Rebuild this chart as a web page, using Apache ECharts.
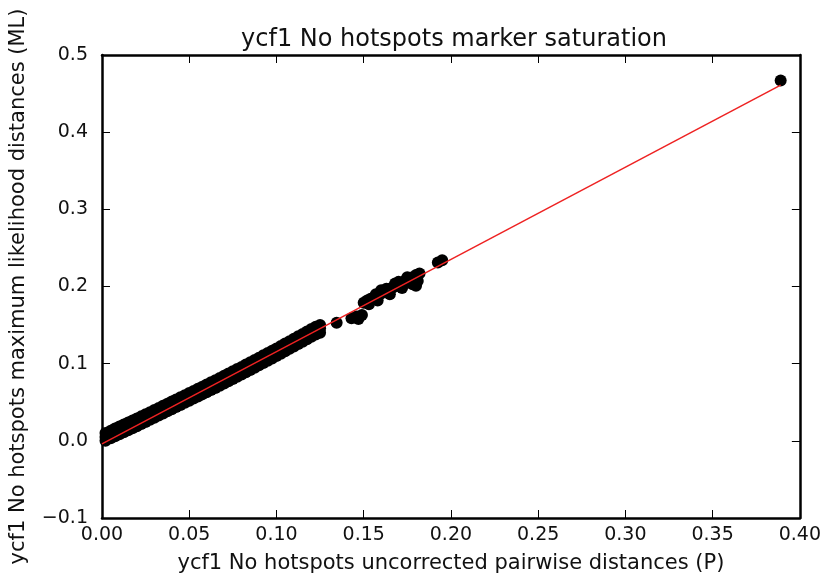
<!DOCTYPE html>
<html>
<head>
<meta charset="utf-8">
<script src="https://cdn.jsdelivr.net/npm/echarts@6/dist/echarts.min.js"></script>
<style>
  html, body { margin: 0; padding: 0; background: #fff; }
  #chart { width: 824px; height: 579px; }
</style>
</head>
<body>
<div id="chart"></div>
<script>
// 数据：P距离(x) 与 ML距离(y)，读自原图
// 密集带：中心、上沿、下沿
const bandX = [0.002, 0.005, 0.0075, 0.010, 0.0125, 0.015, 0.0175, 0.020, 0.0225, 0.025, 0.0275, 0.030, 0.0325,
  0.035, 0.0375, 0.040, 0.0425, 0.045, 0.0475, 0.050, 0.0525, 0.055, 0.0575, 0.060, 0.0625, 0.065, 0.0675, 0.070,
  0.0725, 0.075, 0.0775, 0.080, 0.0825, 0.085, 0.0875, 0.090, 0.0925, 0.095, 0.0975, 0.100, 0.1025, 0.105, 0.1075,
  0.110, 0.1125, 0.115, 0.1175, 0.120, 0.1225, 0.125];
const bandMidY = [0.0050, 0.0082, 0.0109, 0.0135, 0.0162, 0.0188, 0.0214, 0.0240, 0.0267, 0.0294, 0.0322, 0.0349, 0.0377,
  0.0404, 0.0432, 0.0459, 0.0487, 0.0514, 0.0542, 0.0569, 0.0597, 0.0624, 0.0652, 0.0679, 0.0708, 0.0736, 0.0765, 0.0794,
  0.0823, 0.0851, 0.0880, 0.0908, 0.0938, 0.0968, 0.0998, 0.1028, 0.1058, 0.1088, 0.1118, 0.1148, 0.1179, 0.1210, 0.1242,
  0.1273, 0.1304, 0.1335, 0.1367, 0.1398, 0.1428, 0.1458];
const bandUpY = [0.0100, 0.0132, 0.0159, 0.0185, 0.0212, 0.0238, 0.0264, 0.0290, 0.0317, 0.0344, 0.0372, 0.0399, 0.0427,
  0.0454, 0.0482, 0.0509, 0.0537, 0.0564, 0.0592, 0.0619, 0.0647, 0.0674, 0.0702, 0.0729, 0.0758, 0.0786, 0.0815, 0.0844,
  0.0873, 0.0901, 0.0930, 0.0958, 0.0988, 0.1018, 0.1048, 0.1078, 0.1108, 0.1138, 0.1168, 0.1198, 0.1229, 0.1260, 0.1292,
  0.1323, 0.1354, 0.1385, 0.1417, 0.1448, 0.1478, 0.1500];
const bandLowY = [0.0000, 0.0032, 0.0059, 0.0085, 0.0112, 0.0138, 0.0164, 0.0190, 0.0217, 0.0244, 0.0272, 0.0299, 0.0327,
  0.0354, 0.0382, 0.0409, 0.0437, 0.0464, 0.0492, 0.0519, 0.0547, 0.0574, 0.0602, 0.0629, 0.0658, 0.0686, 0.0715, 0.0744,
  0.0773, 0.0801, 0.0830, 0.0858, 0.0888, 0.0918, 0.0948, 0.0978, 0.1008, 0.1038, 0.1068, 0.1098, 0.1129, 0.1160, 0.1192,
  0.1223, 0.1254, 0.1285, 0.1317, 0.1348, 0.1378, 0.1400];

// 稀疏点与离群点
const sparseX = [0.1345, 0.143, 0.146, 0.149, 0.147, 0.150, 0.152, 0.154, 0.156, 0.158, 0.160, 0.162, 0.164, 0.166,
  0.168, 0.170, 0.172, 0.174, 0.176, 0.178, 0.180, 0.182, 0.153, 0.158, 0.165, 0.172, 0.178, 0.181, 0.180, 0.160,
  0.168, 0.175, 0.157, 0.163, 0.170, 0.1925, 0.195, 0.389];
const sparseY = [0.153, 0.159, 0.161, 0.163, 0.158, 0.179, 0.182, 0.184, 0.186, 0.188, 0.191, 0.193, 0.196, 0.198,
  0.200, 0.203, 0.205, 0.208, 0.210, 0.212, 0.215, 0.217, 0.177, 0.182, 0.190, 0.198, 0.203, 0.207, 0.201, 0.195,
  0.204, 0.212, 0.190, 0.197, 0.206, 0.231, 0.234, 0.467];

// 拟合直线
const fitX = [0, 0.389];
const fitY = [-0.004, 0.461];

const FONT = 'DejaVu Sans';

function pairs(xs, ys) {
  return xs.map((x, i) => [x, ys[i]]);
}

const points = [].concat(pairs(bandX, bandMidY), pairs(bandX, bandUpY), pairs(bandX, bandLowY), pairs(sparseX, sparseY));

const chart = echarts.init(document.getElementById('chart'), null, { renderer: 'canvas' });

const axisLine = { show: true, onZero: false, lineStyle: { color: '#000', width: 2.5 } };
const axisTick = { show: true, inside: true, length: 8, lineStyle: { color: '#000', width: 1 } };

chart.setOption({
  backgroundColor: '#fff',
  animation: false,
  title: {
    text: 'ycf1 No hotspots marker saturation',
    left: 449, top: 23, textAlign: 'center',
    textStyle: { fontFamily: FONT, fontSize: 24, fontWeight: 'normal', color: '#111' }
  },
  grid: { left: 102, right: 24, top: 55, bottom: 59 },
  xAxis: [
    {
      type: 'value', min: 0, max: 0.4, interval: 0.05, position: 'bottom',
      name: 'ycf1 No hotspots uncorrected pairwise distances (P)',
      nameLocation: 'middle', nameGap: 35,
      nameTextStyle: { fontFamily: FONT, fontSize: 21, color: '#111' },
      axisLine, axisTick, splitLine: { show: false },
      axisLabel: { fontFamily: FONT, fontSize: 19, color: '#111', margin: 8, formatter: v => v.toFixed(2) }
    },
    {
      type: 'value', min: 0, max: 0.4, interval: 0.05, position: 'top',
      axisLine, axisTick, splitLine: { show: false }, axisLabel: { show: false }
    }
  ],
  yAxis: [
    {
      type: 'value', min: -0.1, max: 0.5, interval: 0.1, position: 'left',
      name: 'ycf1 No hotspots maximum likelihood distances (ML)',
      nameLocation: 'middle', nameGap: 73, nameRotate: 90,
      nameTextStyle: { fontFamily: FONT, fontSize: 21, color: '#111' },
      axisLine, axisTick, splitLine: { show: false },
      axisLabel: {
        fontFamily: FONT, fontSize: 19, color: '#111', margin: 14,
        formatter: v => (v < -1e-9 ? '\u2212' + Math.abs(v).toFixed(1) : Math.abs(v).toFixed(1))
      }
    },
    {
      type: 'value', min: -0.1, max: 0.5, interval: 0.1, position: 'right',
      axisLine, axisTick, splitLine: { show: false }, axisLabel: { show: false }
    }
  ],
  series: [
    {
      type: 'scatter', data: points, symbol: 'circle', symbolSize: 12,
      itemStyle: { color: '#000', opacity: 1 }, z: 2
    },
    {
      type: 'line', data: pairs(fitX, fitY), showSymbol: false, symbol: 'none',
      lineStyle: { color: '#ee2222', width: 1.5 }, z: 3
    }
  ]
});
</script>
</body>
</html>
